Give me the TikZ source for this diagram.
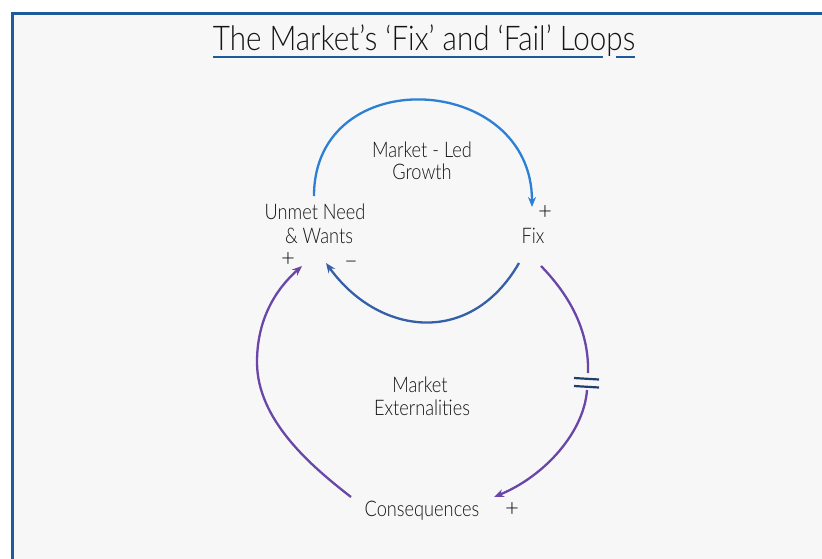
\documentclass[tikz,border=0pt]{standalone}
\usepackage{fontspec}
\setmainfont{Lato}[UprightFont={* Light}]
\usetikzlibrary{arrows.meta}
\definecolor{bgray}{HTML}{F7F7F7}
\definecolor{framec}{HTML}{1E5A9C}
\definecolor{brightblue}{HTML}{2B7FD4}
\definecolor{darkblue}{HTML}{3560A8}
\definecolor{purp}{HTML}{6A46A8}
\definecolor{barc}{HTML}{1F3F6F}
\newcommand{\stretchtxt}[2][1.18]{\scalebox{1}[#1]{#2}}
\tikzset{
  lbl/.style={font=\fontsize{18.2}{21}\selectfont, anchor=base, inner sep=0pt, text=black!92},
  sign/.style={font=\fontsize{24}{26}\selectfont, anchor=base, inner sep=0pt,
    text height=12pt, text depth=0pt, text=black!92},
  conn/.style={line width=2.3pt, -{Stealth[length=10pt,width=8pt]}},
  plainconn/.style={line width=2.3pt},
  bar/.style={line width=2.2pt, draw=barc},
}
\begin{document}
\begin{tikzpicture}[x=1pt,y=-1pt]
\useasboundingbox (0,0) rectangle (822,558);
\clip (0,0) rectangle (822,558);
\fill[white] (0,0) rectangle (822,558);
\fill[bgray] (12,13) rectangle (840,580);
\draw[framec, line width=3pt] (12,580) -- (12,13) -- (840,13);

% title
\node[anchor=base, inner sep=0pt, font=\fontsize{29.6}{32}\selectfont, text=black!92] (title) at (424,50)
  {\stretchtxt[1.15]{The Market’s ‘Fix’ and ‘Fail’ Loops}};
\draw[framec, line width=2.4pt] (213,57) -- (603,57);
\draw[framec, line width=2.4pt] (616,57) -- (635,57);

% nodes
\node[lbl] (unmet1) at (315,219) {\stretchtxt{Unmet Need}};
\node[lbl] (unmet2) at (319,243) {\stretchtxt{\& Wants}};
\node[sign] (plusU) at (288,266) {+};
\node[sign] (minusU) at (351,268) {–};
\node[lbl] (growth1) at (422,157) {\stretchtxt{Market - Led}};
\node[lbl] (growth2) at (422,179) {\stretchtxt{Growth}};
\node[sign] (plusF) at (545,219) {+};
\node[lbl] (fix) at (533,243) {\stretchtxt{Fix}};
\node[lbl] (ext1) at (420,392) {\stretchtxt{Market}};
\node[lbl] (ext2) at (422,415) {\stretchtxt{Externalities}};
\node[lbl] (cons) at (422,516) {\stretchtxt{Consequences}};
\node[sign] (plusC) at (512,516) {+};

% connector end points
\coordinate (uTop) at (314,196);
\coordinate (fTop) at (532,207);
\coordinate (fBotL) at (519,263);
\coordinate (uBotR) at (326,263);
\coordinate (fBotR) at (541,266);
\coordinate (delayA) at (588,373);
\coordinate (delayB) at (587,390);
\coordinate (cRight) at (494,497);
\coordinate (cLeft) at (351,497);
\coordinate (uLeftMid) at (257,362);
\coordinate (uBotL) at (302,266);

% Market-led growth arc
\draw[conn, brightblue] (uTop) .. controls (314,61) and (532,72) .. (fTop);
% Fix balancing back to needs
\draw[conn, darkblue] (fBotL) .. controls (470,348) and (378,335) .. (uBotR);
% Fix -> consequences (with delay)
\draw[plainconn, purp] (fBotR) .. controls (576,302) and (589,338) .. (delayA);
\draw[conn, purp] (delayB) .. controls (584,432) and (545,476) .. (cRight);
\draw[bar] (574,378) -- (599,379.5);
\draw[bar] (574,386) -- (599,387.5);
% Consequences -> needs
\draw[conn, purp] (cLeft) .. controls (311,466) and (257,420) .. (uLeftMid)
  .. controls (257,320) and (275,290) .. (uBotL);
\end{tikzpicture}
\end{document}
